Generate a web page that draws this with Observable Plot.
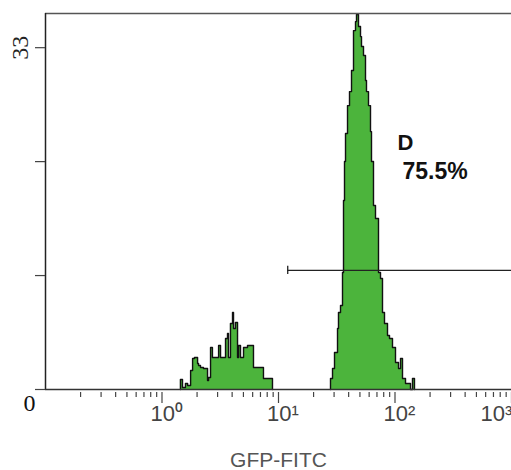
<!DOCTYPE html>
<html>
<head>
<meta charset="utf-8">
<script src="https://cdn.jsdelivr.net/npm/d3@7"></script>
<script src="https://cdn.jsdelivr.net/npm/@observablehq/plot@0.6"></script>
<style>
  html, body { margin: 0; padding: 0; background: #fff; }
  svg { display: block; }
</style>
</head>
<body>
<div id="chart"></div>
<script>
// ---- Data (GFP-FITC fluorescence, log scale) ----
// Population 1 (dim): step edges (fluorescence) and counts per step
const dimEdges  = [1.44, 1.50, 1.59, 1.66, 1.76, 1.83, 1.90, 2.02, 2.06, 2.14, 2.27, 2.46, 2.51, 2.61, 2.71,
                   3.06, 3.18, 3.51, 3.65, 3.72, 3.87, 4.03, 4.11, 4.27, 4.45, 4.54, 4.72, 5.01, 5.42, 6.10, 7.43, 8.88];
const dimCounts = [0.97, 0.2, 0.58, 0.39, 1.83, 2.99, 3.09, 2.51, 2.32, 2.12, 2.03, 0.87, 1.16, 4.05, 3.09,
                   4.25, 3.09, 4.92, 5.41, 3.09, 6.37, 7.43, 5.89, 6.47, 3.09, 4.25, 3.09, 4.05, 4.25, 2.12, 1.06];
// Population 2 (bright, gate D)
const brightEdges  = [27.95, 29.08, 30.25, 32.10, 32.73, 34.06, 35.43, 36.14, 36.86, 37.60, 39.12, 40.69, 42.33, 44.04,
                      45.81, 46.72, 48.61, 50.57, 51.58, 53.66, 55.82, 56.93, 59.23, 61.62, 62.85, 65.38, 68.02, 72.18,
                      75.09, 78.12, 81.27, 86.23, 89.72, 95.18, 101.0, 107.2, 111.5, 116.0, 123.1, 135.8, 141.3, 147.0];
const brightCounts = [1.06, 2.03, 3.57, 5.89, 7.43, 8.11, 11.29, 18.24, 22.01, 24.71, 27.41, 28.76, 30.79, 34.65,
                      35.52, 36.20, 35.04, 34.07, 33.11, 32.24, 29.83, 28.76, 27.41, 24.90, 22.01, 17.76, 16.51, 11.29,
                      10.71, 7.43, 6.37, 5.21, 4.92, 4.05, 2.61, 2.03, 2.99, 1.06, 0.58, 0, 1.06];

// Axes
const xDomain = [0.1, 1000];
const yDomain = [0, 36.3];
const majorTicks = [1, 10, 100, 1000];
const majorLabels = ["10⁰", "10¹", "10²", "10³"];
const decades = [0.1, 1, 10, 100];
const minorMultipliers = [2, 3, 4, 5, 6, 7, 8, 9];
const minorTicks = decades.flatMap(d => minorMultipliers.map(m => m * d));
const yTicks = [0, 11, 22, 33];
const yLabels = [{v: 0, t: "0"}, {v: 33, t: "33"}];
const xLabel = "GFP-FITC";

// Gate marker
const gateStart = 12.0;
const gateEnd = 1000;
const gateLevel = 11.5;
const gateName = ["D"];
const gateNameX = [105];
const gateNameY = [23.8];
const gatePct = ["75.5%"];
const gatePctX = [116];
const gatePctY = [21.0];

// ---- Build step rows ----
function steps(edges, counts) {
  const rows = [{x: edges[0], y: 0}];
  counts.forEach((c, i) => rows.push({x: edges[i], y: c}));
  rows.push({x: edges[edges.length - 1], y: 0});
  return rows;
}
const dimRows = steps(dimEdges, dimCounts);
const brightRows = steps(brightEdges, brightCounts);

const green = "#4cb43c";
const sans = "Liberation Sans, Arial, sans-serif";
const serif = "Liberation Serif, Times New Roman, serif";

const chart = Plot.plot({
  width: 511,
  height: 470,
  marginLeft: 45,
  marginRight: 0,
  marginTop: 13,
  marginBottom: 81,
  style: {fontFamily: sans, background: "white"},
  x: {type: "log", domain: xDomain, label: null},
  y: {domain: yDomain, label: null},
  marks: [
    // histograms
    Plot.areaY(dimRows, {x: "x", y: "y", curve: "step-after", fill: green}),
    Plot.areaY(brightRows, {x: "x", y: "y", curve: "step-after", fill: green}),
    Plot.lineY(dimRows, {x: "x", y: "y", curve: "step-after", stroke: "#111", strokeWidth: 1.4}),
    Plot.lineY(brightRows, {x: "x", y: "y", curve: "step-after", stroke: "#111", strokeWidth: 1.4}),
    // frame lines
    Plot.ruleY([yDomain[1]], {stroke: "#555", strokeWidth: 1.5}),
    Plot.ruleX([xDomain[0]], {stroke: "#222", strokeWidth: 1.5}),
    Plot.ruleY([0], {stroke: "#333", strokeWidth: 1.5}),
    // x ticks
    Plot.axisX(minorTicks, {anchor: "bottom", label: null, tickSize: 5, tickFormat: () => "", stroke: "#444", strokeWidth: 1.2, dy: 3}),
    Plot.axisX(majorTicks, {anchor: "bottom", label: null, tickSize: 11, tickFormat: () => "", stroke: "#444", strokeWidth: 1.2, dy: 3}),
    Plot.text(majorTicks.slice(0, 3), {x: d => d, frameAnchor: "bottom", text: (d, i) => majorLabels[i],
      textAnchor: "start", lineAnchor: "middle", dx: -11.5, dy: 24, fontSize: 22, fill: "#444"}),
    Plot.text(majorTicks.slice(3), {x: d => d, frameAnchor: "bottom", text: (d, i) => majorLabels[3 + i],
      textAnchor: "start", lineAnchor: "middle", dx: -31, dy: 24, fontSize: 22, fill: "#444"}),
    Plot.text([xLabel], {frameAnchor: "bottom", lineAnchor: "middle", dy: 71, fontSize: 21, fill: "#555"}),
    // y ticks and labels
    Plot.axisY(yTicks, {anchor: "left", label: null, tickSize: 10, tickFormat: () => "", stroke: "#444", strokeWidth: 1.2}),
    Plot.text(yLabels.filter(d => d.v === 0), {y: "v", text: "t", frameAnchor: "left", textAnchor: "end",
      lineAnchor: "middle", dx: -10, dy: 14, fontSize: 24, fontFamily: serif, fill: "#111"}),
    Plot.text(yLabels.filter(d => d.v !== 0), {y: "v", text: "t", frameAnchor: "left", textAnchor: "middle",
      lineAnchor: "middle", rotate: -90, dx: -25, fontSize: 24, fontFamily: serif, fill: "#222"}),
    // gate
    Plot.ruleY([gateLevel], {x1: gateStart, x2: gateEnd, stroke: "#222", strokeWidth: 1.3}),
    Plot.ruleX([gateStart], {y1: gateLevel - 0.4, y2: gateLevel + 0.4, stroke: "#222", strokeWidth: 1.3}),
    Plot.text(gateName, {x: gateNameX, y: gateNameY, textAnchor: "start", lineAnchor: "middle",
      fontSize: 22, fontWeight: "bold", fill: "#111"}),
    Plot.text(gatePct, {x: gatePctX, y: gatePctY, textAnchor: "start", lineAnchor: "middle",
      fontSize: 23, fontWeight: "bold", fill: "#111"})
  ]
});
document.getElementById("chart").appendChild(chart);
</script>
</body>
</html>
